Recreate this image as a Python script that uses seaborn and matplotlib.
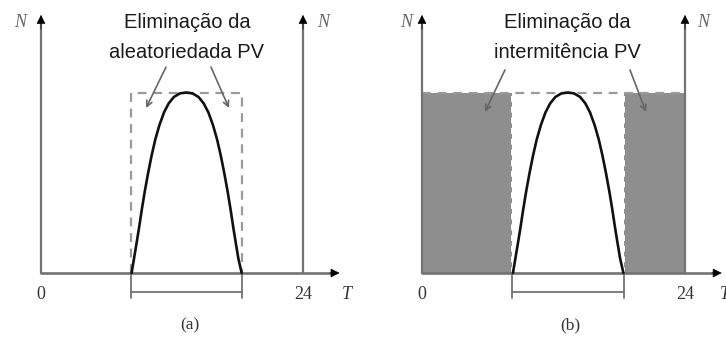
import matplotlib
matplotlib.use("Agg")
import matplotlib.pyplot as plt
import seaborn as sns
import pandas as pd

# PV output over one day (hours, normalised power)
hours = [8.30, 8.52, 8.74, 8.98, 9.23, 9.50, 9.80, 10.13, 10.47, 10.85, 11.27,
         11.70, 12.17, 12.72, 13.30, 13.88, 14.43, 14.90, 15.33, 15.75, 16.13,
         16.47, 16.80, 17.10, 17.37, 17.62, 17.86, 18.08, 18.38]
power = [0.00, 0.08, 0.16, 0.25, 0.35, 0.45, 0.55, 0.65, 0.74, 0.82, 0.89,
         0.94, 0.975, 0.995, 1.00, 0.995, 0.975, 0.94, 0.89, 0.82, 0.74,
         0.65, 0.55, 0.45, 0.35, 0.25, 0.16, 0.08, 0.00]

day_start, day_end = 8.20, 18.45   # sunrise / sunset
peak_level = 1.0
day_length = 24

x_ticks = ["0", "24"]
panel_labels = ["(a)", "(b)"]
titles = [["Eliminação da", "aleatoriedada PV"],
          ["Eliminação da", "intermitência PV"]]

sns.set_theme(style="white")
plt.rcParams["font.family"] = ["Liberation Sans", "DejaVu Sans"]

W, H = 726, 340
fig = plt.figure(figsize=(W / 100, H / 100), dpi=100)
fig.patch.set_facecolor("white")

AX_GRAY = "#737373"
DASH_GRAY = "#9a9a9a"
FILL_GRAY = "#8e8e8e"
SERIF = ["Liberation Serif", "DejaVu Serif"]

# panel geometry in pixels: left edge, width, x of hour 0 and hour 24
panels = [
    dict(left=0, width=363, x0=41, x24=303),
    dict(left=363, width=363, x0=422, x24=685),
]
base_y, peak_y = 273, 92.5

df = pd.DataFrame({"T": hours, "N": power})

for k, p in enumerate(panels):
    ax = fig.add_axes([p["left"] / W, 0, p["width"] / W, 1])
    sx = (p["x24"] - p["x0"]) / day_length
    sy = (base_y - peak_y) / peak_level
    ax.set_xlim(-(p["x0"] - p["left"]) / sx, (p["left"] + p["width"] - p["x0"]) / sx)
    ax.set_ylim(-(H - base_y) / sy, base_y / sy)
    ax.axis("off")

    t_tip = 27.35
    n_tip = 1.43

    if k == 1:
        # stored energy covering the night hours
        ax.fill_between([0, day_start], 0, peak_level, color=FILL_GRAY, lw=0, zorder=1)
        ax.fill_between([day_end, day_length], 0, peak_level, color=FILL_GRAY, lw=0, zorder=1)
        ax.plot([0, day_length], [peak_level, peak_level], ls=(0, (4, 3)),
                color=DASH_GRAY, lw=1.6, zorder=2)
        for xv in (day_start, day_end):
            ax.plot([xv, xv], [0, peak_level], ls=(0, (3, 2.5)),
                    color="white", lw=1.4, zorder=2)
    else:
        ax.plot([day_start, day_start, day_end, day_end],
                [0, peak_level, peak_level, 0], ls=(0, (4, 3)),
                color=DASH_GRAY, lw=1.6, zorder=2)

    # axes: T axis, N axis at 0 and at 24h
    ax.plot([0, t_tip - 0.6], [0, 0], color=AX_GRAY, lw=1.9, zorder=3)
    ax.annotate("", xy=(t_tip, 0), xytext=(t_tip - 0.9, 0),
                arrowprops=dict(arrowstyle="-|>", color="black", lw=0.5,
                                mutation_scale=14, shrinkA=0, shrinkB=0), zorder=4)
    for xv in (0, day_length):
        ax.plot([xv, xv], [0, n_tip - 0.05], color=AX_GRAY, lw=1.6, zorder=3)
        ax.annotate("", xy=(xv, n_tip), xytext=(xv, n_tip - 0.08),
                    arrowprops=dict(arrowstyle="-|>", color="black", lw=0.5,
                                    mutation_scale=14, shrinkA=0, shrinkB=0), zorder=4)

    # PV production curve
    sns.lineplot(data=df, x="T", y="N", ax=ax, color="#111111", lw=1.9,
                 sort=False, zorder=5, legend=False,
                 solid_joinstyle="round", solid_capstyle="round")

    # daylight bracket below the time axis
    ax.plot([day_start, day_start], [-0.005, -0.14], color=AX_GRAY, lw=1.3)
    ax.plot([day_end, day_end], [-0.005, -0.14], color=AX_GRAY, lw=1.3)
    ax.plot([day_start, day_end], [-0.105, -0.105], color=AX_GRAY, lw=1.3)

    # tick labels and axis names
    ax.text(0, -0.12, x_ticks[0], ha="center", va="center", fontsize=13,
            family=SERIF, color="#333333")
    ax.text(day_length, -0.12, x_ticks[1], ha="center", va="center", fontsize=13,
            family=SERIF, color="#333333")
    ax.text(day_length + (4.0 if k == 0 else 3.6), -0.12, "T", ha="center", va="center",
            fontsize=13, family=SERIF, style="italic", color="#333333")
    n_off = [(-1.92, 25.83), (-1.46, 25.64)][k]
    for xv in n_off:
        ax.text(xv, 1.39, "N", ha="center", va="center", fontsize=13,
                family=SERIF, style="italic", color="#666666")
    ax.text([13.65, 13.5][k], -0.29, panel_labels[k], ha="center", va="center",
            fontsize=12.5, family=SERIF, color="#333333")

    # annotation text and pointers
    cx = [13.37, 13.23][k]
    ax.text(cx, 1.39, titles[k][0], ha="center", va="center", fontsize=14.5,
            color="#1a1a1a")
    ax.text(cx, 1.224, titles[k][1], ha="center", va="center", fontsize=14.5,
            color="#1a1a1a")
    arrows = [
        [((11.45, 1.141), (9.62, 0.914)), ((15.57, 1.141), (17.22, 0.914))],
        [((7.57, 1.125), (5.75, 0.892)), ((18.98, 1.125), (20.44, 0.892))],
    ][k]
    for start, end in arrows:
        ax.annotate("", xy=end, xytext=start,
                    arrowprops=dict(arrowstyle="->", color="#666666", lw=1.2,
                                    mutation_scale=10, shrinkA=0, shrinkB=0), zorder=6)

fig.savefig("out.png", dpi=100, facecolor="white")
